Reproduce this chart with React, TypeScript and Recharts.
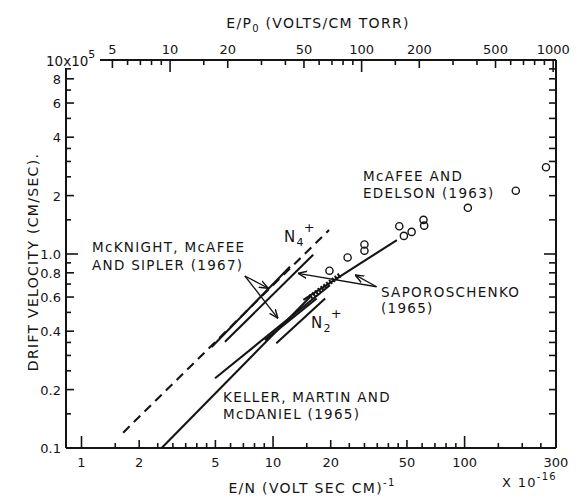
import { ComposedChart, Line, Scatter, XAxis, YAxis, ReferenceLine } from 'recharts'

// drift velocity of N2+ / N4+ in nitrogen, log-log
// x: E/N in 1e-16 V cm^2, v: drift velocity in 1e5 cm/s

const enTicks = [1, 1.5, 2, 2.5, 3, 3.5, 4, 4.5, 5, 6, 7, 8, 9, 10, 15, 20, 25, 30, 35, 40, 45, 50, 60, 70, 80, 90, 100, 150, 200, 250, 300]
const enLabels = [1, 2, 5, 10, 20, 50, 100, 300]
const epTicks = [5, 6, 7, 8, 9, 10, 15, 20, 30, 40, 50, 60, 70, 80, 90, 100, 150, 200, 300, 400, 500, 600, 700, 800, 900, 1000]
const epLabels = [5, 10, 20, 50, 100, 200, 500, 1000]
const vTicks = [0.1, 0.15, 0.2, 0.25, 0.3, 0.35, 0.4, 0.5, 0.6, 0.7, 0.8, 0.9, 1, 1.5, 2, 2.5, 3, 3.5, 4, 5, 6, 7, 8, 9]
const vLabels = [0.1, 0.2, 0.4, 0.6, 0.8, 1, 2, 4, 6, 8]

// E/N = EP_FACTOR * E/P0
const EP_FACTOR = 0.29
const enDomain = [0.83, 300]
const vDomain = [0.1, 10]

// McAfee and Edelson (1963) points
const mcafeeX = [19.7, 24.5, 30, 30, 45.6, 48.2, 52.9, 61, 61.5, 104, 185, 266]
const mcafeeV = [0.82, 0.96, 1.12, 1.04, 1.39, 1.24, 1.3, 1.5, 1.4, 1.73, 2.12, 2.8]

// line segments, [x, v] end points
const n4Dashed = [[1.65, 0.12], [19.6, 1.33]]
const mcknightN4 = [[4.78, 0.332], [12.25, 0.86]]
const saporoN4 = [[5.61, 0.353], [16.2, 0.99]]
const mcknightN2 = [[4.98, 0.229], [19.8, 0.69]]
const n2Upper = [[9.07, 0.36], [16.9, 0.59]]
const n2Lower = [[10.4, 0.347], [18.7, 0.59]]
const keller = [[2.62, 0.1], [15.6, 0.6]]
const saporoN2 = [[14.4, 0.58], [44.3, 1.18]]
const saporoHatch = [[15.6, 0.6], [22.4, 0.78]]

// arrows from the labels, [from, to]
const mcknightArrows = [[[7.13, 0.77], [9.44, 0.666]], [[7.13, 0.77], [10.6, 0.466]]]
const saporoArrows = [[[34.7, 0.678], [13.5, 0.795]], [[34.7, 0.678], [26.8, 0.78]]]

const INK = '#141414'
const FONT = '"DejaVu Sans", sans-serif'
// plot scale, px per decade, used to size the inward ticks
const PX_DEC_X = 191.6
const PX_DEC_Y = 194

const toPts = (seg: number[][]) => seg.map(([x, v]) => ({ x, v }))
const circles = mcafeeX.map((x, i) => ({ x, v: mcafeeV[i] }))
// invisible series so the top axis gets drawn
const topAnchor = [{ ep: epTicks[0], v: 1 }, { ep: epTicks[epTicks.length - 1], v: 1 }]

function tickLen(v: number, decades: number[], labeled: number[]) {
  if (decades.includes(v)) return 12
  if (labeled.includes(v)) return 8
  return 5
}
const fx = (px: number) => Math.pow(10, px / PX_DEC_X)
const fy = (px: number) => Math.pow(10, px / PX_DEC_Y)

type Seg = [{ x: number; y: number }, { x: number; y: number }]
const [xMin, xMax] = enDomain
const [vMin, vMax] = vDomain

// frame (corner left open for the 10x10^5 label) and inward ticks
const frameSegs: Seg[] = [
  [{ x: xMin, y: vMin }, { x: xMax, y: vMin }],
  [{ x: xMax, y: vMin }, { x: xMax, y: vMax }],
  [{ x: xMin * fx(34), y: vMax }, { x: xMax, y: vMax }],
  [{ x: xMin, y: vMin }, { x: xMin, y: vMax / fy(8) }],
]
const tickSegs: Seg[] = [
  ...enTicks.map(v => [{ x: v, y: vMin }, { x: v, y: vMin * fy(tickLen(v, [1, 10, 100], enLabels)) }] as Seg),
  ...epTicks.map(e => {
    const x = e * EP_FACTOR
    return [{ x, y: vMax }, { x, y: vMax / fy(tickLen(e, [10, 100, 1000], epLabels)) }] as Seg
  }),
  ...vTicks.map(v => [{ x: xMin, y: v }, { x: xMin * fx(tickLen(v, [1], vLabels)), y: v }] as Seg),
  ...vTicks.map(v => [{ x: xMax, y: v }, { x: xMax / fx(v === 1 ? 12 : 7), y: v }] as Seg),
]

const BottomLabel = ({ x, y, payload }: any) => (
  <text x={x} y={y + 19} textAnchor="middle" fontSize={13} fontFamily={FONT} fill={INK}>{payload.value}</text>
)
const TopLabel = ({ x, y, payload }: any) => (
  <text x={x} y={y - 6} textAnchor="middle" fontSize={13} fontFamily={FONT} fill={INK}>{payload.value}</text>
)
const LeftLabel = ({ x, y, payload }: any) => (
  <text x={x - 5} y={y + 5} textAnchor="end" fontSize={13} fontFamily={FONT} fill={INK}>
    {payload.value === 1 ? '1.0' : payload.value}
  </text>
)

const Ring = ({ cx, cy }: any) => <circle cx={cx} cy={cy} r={3.6} fill="none" stroke={INK} strokeWidth={1.4} />

const txt = { fontFamily: FONT, fontSize: 13.5, fill: INK, letterSpacing: 1.3 }

export default function App() {
  const lineProps = { type: 'linear' as const, dataKey: 'v', dot: false, isAnimationActive: false, stroke: INK, strokeWidth: 2.1 }
  const axisCommon = { type: 'number' as const, scale: 'log' as const, allowDataOverflow: true, interval: 0, tickSize: 0, tickMargin: 0, tickLine: false, axisLine: false }
  return (
    <div style={{ position: 'absolute', left: 0, top: 0, width: 578, height: 497, background: '#fff' }}>
      <ComposedChart width={578} height={497} margin={{ top: 0, right: 22, bottom: 0, left: 0 }}>
        <defs>
          <marker id="arrowhead" viewBox="0 0 10 10" refX={10} refY={5} markerWidth={9} markerHeight={9} markerUnits="userSpaceOnUse" orient="auto">
            <path d="M0,1 L10,5 L0,9" fill="none" stroke={INK} strokeWidth={1.6} />
          </marker>
        </defs>

        <XAxis {...axisCommon} dataKey="x" domain={enDomain} ticks={enLabels} height={49} tick={<BottomLabel />} />
        <XAxis {...axisCommon} xAxisId="top" dataKey="ep" orientation="top" domain={enDomain.map(d => d / EP_FACTOR)}
          ticks={epLabels} height={60} tick={<TopLabel />} />
        <YAxis {...axisCommon} domain={vDomain} ticks={vLabels} width={66} tick={<LeftLabel />} />

        <Line xAxisId="top" data={topAnchor} dataKey="v" stroke="none" dot={false} isAnimationActive={false} />

        {frameSegs.map((s, i) => (
          <ReferenceLine key={'f' + i} segment={s} stroke={INK} strokeWidth={2} ifOverflow="visible" />
        ))}
        {tickSegs.map((s, i) => (
          <ReferenceLine key={'t' + i} segment={s} stroke={INK} strokeWidth={1.6} ifOverflow="visible" />
        ))}

        <Line {...lineProps} data={toPts(n4Dashed)} strokeDasharray="9 6" />
        <Line {...lineProps} data={toPts(mcknightN4)} />
        <Line {...lineProps} data={toPts(saporoN4)} />
        <Line {...lineProps} data={toPts(mcknightN2)} />
        <Line {...lineProps} data={toPts(n2Upper)} />
        <Line {...lineProps} data={toPts(n2Lower)} />
        <Line {...lineProps} data={toPts(keller)} />
        <Line {...lineProps} data={toPts(saporoN2)} />
        <Line {...lineProps} data={toPts(saporoHatch)} strokeWidth={5} strokeDasharray="2 1.5" />

        {[...mcknightArrows, ...saporoArrows].map(([a, b], i) => (
          <ReferenceLine key={'a' + i} segment={[{ x: a[0], y: a[1] }, { x: b[0], y: b[1] }]} stroke={INK} strokeWidth={1.3}
            markerEnd="url(#arrowhead)" ifOverflow="visible" />
        ))}

        <Scatter data={circles} dataKey="v" shape={<Ring />} isAnimationActive={false} />

        <text x={46} y={66} {...txt} letterSpacing={0}>10x10<tspan dy={-8} fontSize={11}>5</tspan></text>

        <text x={318} y={28} textAnchor="middle" {...txt} fontSize={14}>
          E/P<tspan dy={4} fontSize={10}>0</tspan><tspan dy={-4}> (VOLTS/CM TORR)</tspan>
        </text>
        <text x={312} y={493} textAnchor="middle" {...txt} fontSize={14}>
          E/N (VOLT SEC CM)<tspan dy={-7} fontSize={10}>-1</tspan>
        </text>
        <text x={502} y={487} {...txt} fontSize={13}>X 10<tspan dy={-7} fontSize={10}>-16</tspan></text>
        <text transform="translate(38 262) rotate(-90)" textAnchor="middle" {...txt} fontSize={14}>DRIFT VELOCITY (CM/SEC).</text>

        <text x={363} y={181} {...txt}>McAFEE AND</text>
        <text x={363} y={198} {...txt}>EDELSON (1963)</text>
        <text x={92} y={252} {...txt}>McKNIGHT, McAFEE</text>
        <text x={92} y={270} {...txt}>AND SIPLER (1967)</text>
        <text x={381} y={297} {...txt}>SAPOROSCHENKO</text>
        <text x={381} y={313} {...txt}>(1965)</text>
        <text x={223} y={402} {...txt}>KELLER, MARTIN AND</text>
        <text x={223} y={419} {...txt}>McDANIEL (1965)</text>

        <text x={284} y={242} {...txt} fontSize={15}>N<tspan dy={4} fontSize={11}>4</tspan><tspan dx={-1} dy={-14} fontSize={13}>+</tspan></text>
        <text x={311} y={328} {...txt} fontSize={15}>N<tspan dy={4} fontSize={11}>2</tspan><tspan dx={-1} dy={-14} fontSize={13}>+</tspan></text>
      </ComposedChart>
    </div>
  )
}
